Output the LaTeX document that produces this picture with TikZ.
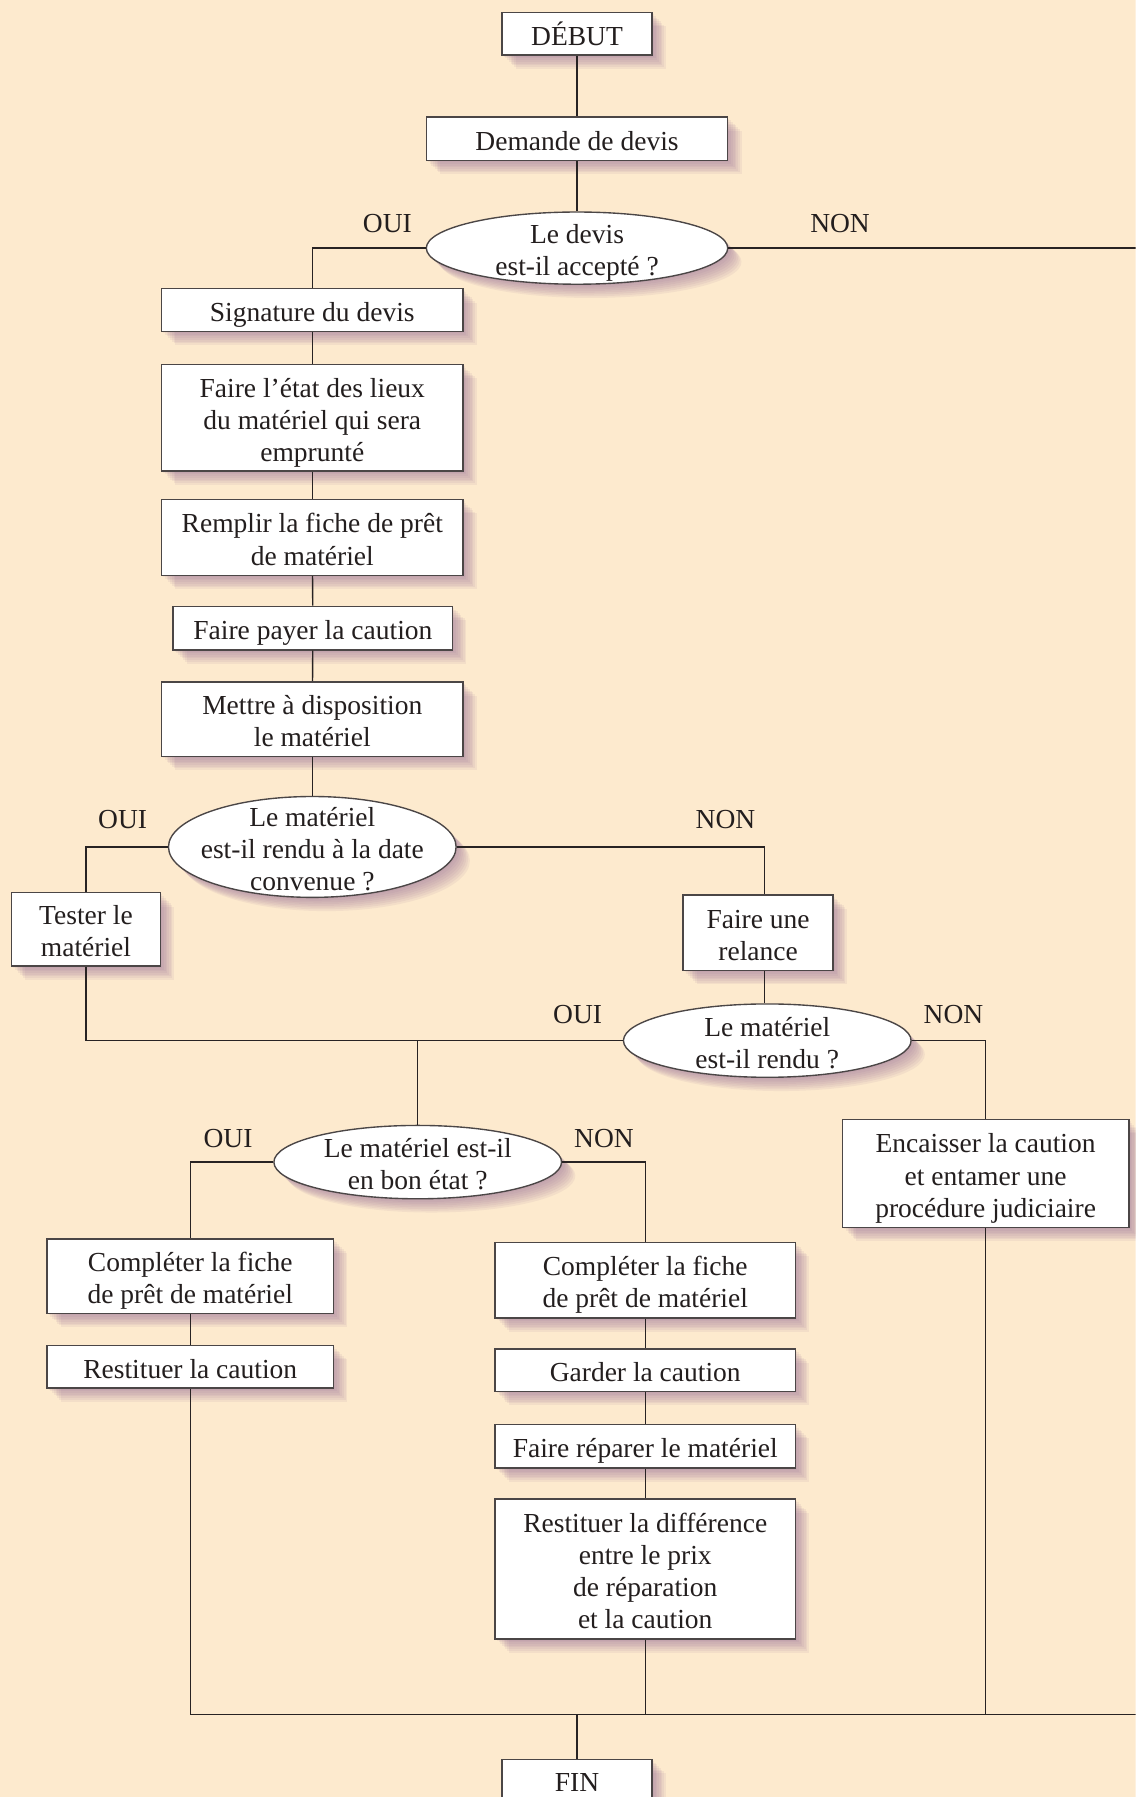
\documentclass[tikz,border=0pt]{standalone}
\usepackage{fontspec}
\setmainfont{Liberation Serif}
\usetikzlibrary{shapes.geometric,shadows}
\definecolor{bg}{RGB}{253,234,206}
\definecolor{shc}{RGB}{150,110,150}
\definecolor{ln}{RGB}{40,35,35}
\definecolor{bd}{RGB}{75,70,70}
\definecolor{txt}{RGB}{35,30,30}
\begin{document}
\begin{tikzpicture}[x=0.5pt,y=-0.5pt,
  sz/.style 2 args={minimum width=#1*0.5pt,minimum height=#2*0.5pt},
  sl/.style={general shadow={fill=shc,fill opacity=0.09,draw=none,shadow xshift=#1,shadow yshift=-#1}},
  shd/.style={sl=0.75pt,sl=1.5pt,sl=2.25pt,sl=3pt,sl=3.75pt,sl=4.5pt,sl=5.25pt,sl=6pt},
  ln1/.style={text height=10pt,text depth=0pt},
  ln2/.style={text height=24pt,text depth=0pt},
  ln3/.style={text height=38pt,text depth=0pt},
  ln4/.style={text height=52pt,text depth=0pt},
  box/.style={draw=bd,line width=0.6pt,fill=white,align=center,inner sep=0pt,
    font=\fontsize{12}{14}\selectfont,text=txt,shd,ln1},
  dec/.style={draw=bd,line width=0.6pt,fill=white,inner sep=0pt,ellipse,shd},
  etext/.style={align=center,inner sep=0pt,font=\fontsize{12}{14}\selectfont,text=txt},
  lab/.style={inner sep=0pt,font=\fontsize{12}{14}\selectfont,text=txt,ln1},
  conn/.style={draw=ln,line width=0.6pt}]
\useasboundingbox (0,0) rectangle (991,1568);
\clip (0,0) rectangle (991,1568);
\fill[bg] (0,0) rectangle (991,1568);

% nodes
\node[box,sz={131}{37}] (debut) at (503.5,29.5) {DÉBUT};
\node[box,sz={263}{38}] (demande) at (503.5,121) {Demande de devis};
\node[dec,sz={263}{63}] (e1) at (503.5,216.5) {};
\node[etext,ln2] (e1t) at (e1) {Le devis\\est-il accepté ?};
\node[box,sz={263}{37}] (sig) at (272.5,270.5) {Signature du devis};
\node[box,ln3,sz={263}{93}] (etat) at (272.5,364.5) {Faire l’état des lieux\\du matériel qui sera\\emprunté};
\node[box,ln2,sz={263}{66}] (remplir) at (272.5,469) {Remplir la fiche de prêt\\de matériel};
\node[box,sz={244}{38}] (payer) at (273,548) {Faire payer la caution};
\node[box,ln2,sz={263}{65}] (mettre) at (272.5,627.5) {Mettre à disposition\\le matériel};
\node[dec,sz={251}{88}] (e2) at (272.5,739) {};
\node[etext,ln3] (e2t) at (e2) {Le matériel\\est-il rendu à la date\\convenue ?};
\node[box,ln2,sz={130}{64}] (tester) at (75,811) {Tester le\\matériel};
\node[box,ln2,sz={131}{66}] (relance) at (661.5,814) {Faire une\\relance};
\node[dec,sz={251}{64}] (e3) at (669.5,908) {};
\node[etext,ln2] (e3t) at (e3) {Le matériel\\est-il rendu ?};
\node[box,ln3,sz={250}{94}] (encaisser) at (860,1024) {Encaisser la caution\\et entamer une\\procédure judiciaire};
\node[dec,sz={251}{64}] (e4) at (364.5,1014) {};
\node[etext,ln2] (e4t) at (e4) {Le matériel est-il\\en bon état ?};
\node[box,ln2,sz={250}{65}] (compL) at (166,1113.5) {Compléter la fiche\\de prêt de matériel};
\node[box,sz={250}{37}] (restL) at (166,1192.5) {Restituer la caution};
\node[box,ln2,sz={262}{66}] (compR) at (563,1117) {Compléter la fiche\\de prêt de matériel};
\node[box,sz={262}{37}] (garder) at (563,1195.5) {Garder la caution};
\node[box,sz={262}{38}] (reparer) at (563,1262) {Faire réparer le matériel};
\node[box,ln4,sz={262}{122}] (diff) at (563,1369) {Restituer la différence\\entre le prix\\de réparation\\et la caution};
\node[box,sz={131}{37}] (fin) at (503.5,1553.5) {FIN};

% labels
\node[lab] (l1) at (338,193) {OUI};
\node[lab] (l2) at (733,193) {NON};
\node[lab] (l3) at (107,713) {OUI};
\node[lab] (l4) at (633,713) {NON};
\node[lab] (l5) at (504,883) {OUI};
\node[lab] (l6) at (832,883) {NON};
\node[lab] (l7) at (199,991) {OUI};
\node[lab] (l8) at (527,991) {NON};

% free ends off the right edge
\coordinate (rtop) at (1010,216.5);
\coordinate (rbot) at (1010,1496);

% connectors
\draw[conn] (debut) -- (demande);
\draw[conn] (demande) -- (e1);
\draw[conn] (e1.west) -| (sig.north);
\draw[conn] (sig) -- (etat);
\draw[conn] (etat) -- (remplir);
\draw[conn] (remplir) -- (payer);
\draw[conn] (payer) -- (mettre);
\draw[conn] (mettre) -- (e2);
\draw[conn] (e2.west) -| (tester.north);
\draw[conn] (e2.east) -| ([xshift=2.75pt]relance.north);
\draw[conn] ([xshift=2.75pt]relance.south) -- ([xshift=2.75pt]relance.south |- e3.north);
\draw[conn] (tester.south) |- (e3.west);
\draw[conn] (e4.north) -- (e4.north |- e3.west);
\draw[conn] (e3.east) -| (encaisser.north);
\draw[conn] (e4.west) -| (compL.north);
\draw[conn] (e4.east) -| (compR.north);
\draw[conn] (compL) -- (restL);
\draw[conn] (compR) -- (garder);
\draw[conn] (garder) -- (reparer);
\draw[conn] (reparer) -- (diff);
\draw[conn] (e1.east) -- (rtop) -- (rbot) -| (restL.south);
\draw[conn] (diff.south) -- (diff.south |- rbot);
\draw[conn] (encaisser.south) -- (encaisser.south |- rbot);
\draw[conn] (fin.north) -- (fin.north |- rbot);
\end{tikzpicture}
\end{document}
